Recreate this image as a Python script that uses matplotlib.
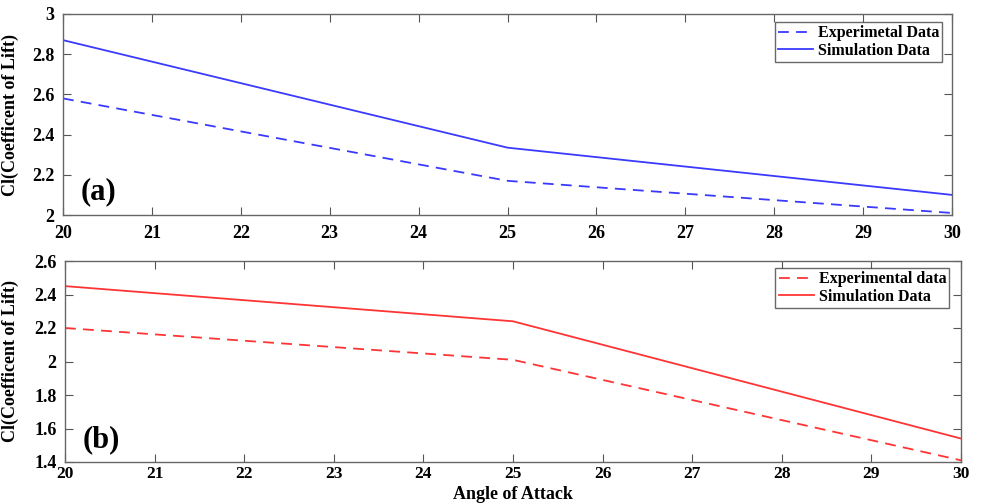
import matplotlib
matplotlib.use("Agg")
import matplotlib.pyplot as plt

angles = [20, 25, 30]
exp_a = [2.58, 2.17, 2.01]
sim_a = [2.87, 2.335, 2.10]
exp_b = [2.20, 2.01, 1.41]
sim_b = [2.45, 2.24, 1.54]
xticks = list(range(20, 31))

plt.rcParams['font.family'] = ['Liberation Serif', 'DejaVu Serif']
plt.rcParams['font.weight'] = 'bold'

fig = plt.figure(figsize=(9.81, 5.04), dpi=100)
W, H = 981, 504
ax1 = fig.add_axes([63/W, 1-215/H, (952-63)/W, (215-14)/H])
ax2 = fig.add_axes([65/W, 1-462/H, (961-65)/W, (462-261)/H])

blue = '#3a3aff'
red = '#ff3535'

ax1.plot(angles, exp_a, '--', color=blue, lw=1.3, dashes=(6, 4), label='Experimetal Data')
ax1.plot(angles, sim_a, '-', color=blue, lw=1.3, label='Simulation Data')
ax1.set_ylim(2, 3)
ax1.set_yticks([2, 2.2, 2.4, 2.6, 2.8, 3])
ax1.set_yticklabels(['2', '2.2', '2.4', '2.6', '2.8', '3'])
ax1.text(20.2, 2.08, '(a)', fontsize=22, fontweight='bold')

ax2.plot(angles, exp_b, '--', color=red, lw=1.3, dashes=(6, 4), label='Experimental data')
ax2.plot(angles, sim_b, '-', color=red, lw=1.3, label='Simulation Data')
ax2.set_ylim(1.4, 2.6)
ax2.set_yticks([1.4, 1.6, 1.8, 2.0, 2.2, 2.4, 2.6])
ax2.set_yticklabels(['1.4', '1.6', '1.8', '2', '2.2', '2.4', '2.6'])
ax2.text(20.2, 1.49, '(b)', fontsize=22, fontweight='bold')

for ax in (ax1, ax2):
    ax.set_xlim(20, 30)
    ax.set_xticks(xticks)
    ax.tick_params(direction='in', top=True, right=True, labelsize=13, length=6, color='#555555')
    ax.tick_params(axis='y', pad=6)
    for lab in ax.get_xticklabels() + ax.get_yticklabels():
        lab.set_fontweight('bold')
    for s in ax.spines.values():
        s.set_color('#666666')
        s.set_linewidth(1.0)
    ax.set_ylabel('Cl(Coefficent of Lift)', fontsize=13, fontweight='bold', labelpad=4)

ax1.tick_params(axis='x', pad=7)
ax2.tick_params(axis='x', pad=3, labelsize=12.5)
ax2.set_xlabel('Angle of Attack', fontsize=13, fontweight='bold', labelpad=0)
ax2.xaxis.set_label_coords(0.5, -0.118)

leg1 = ax1.legend(loc='upper right', fontsize=11.5, handlelength=2.2, handletextpad=0.3,
                  borderpad=0.2, labelspacing=0.1, fancybox=False, frameon=True,
                  borderaxespad=0, bbox_to_anchor=(0.989, 0.96))
leg2 = ax2.legend(loc='upper right', fontsize=11.5, handlelength=2.2, handletextpad=0.3,
                  borderpad=0.2, labelspacing=0.1, fancybox=False, frameon=True,
                  borderaxespad=0, bbox_to_anchor=(0.987, 0.965))
for leg in (leg1, leg2):
    leg.get_frame().set_edgecolor('#444444')
    leg.get_frame().set_linewidth(1.0)
    for t in leg.get_texts():
        t.set_fontweight('bold')

ax1.yaxis.set_label_coords(-0.049, 0.5)
ax2.yaxis.set_label_coords(-0.051, 0.5)

fig.savefig('out.png', dpi=100)
